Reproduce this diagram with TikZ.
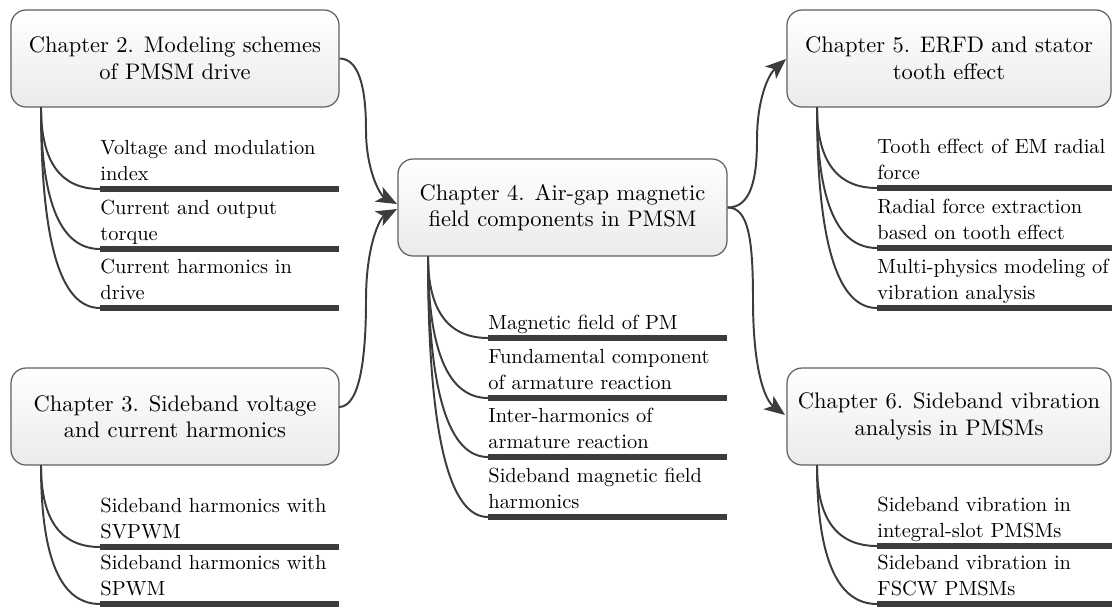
\documentclass[tikz,border=0pt]{standalone}
\usetikzlibrary{arrows.meta}
\definecolor{lnk}{HTML}{3C3C3C}
\definecolor{bord}{HTML}{606060}
\tikzset{
  chap/.style={draw=bord, line width=0.6pt, rounded corners=7.3pt, top color=white, middle color=black!1, bottom color=black!8,
    minimum height=47pt, align=center, inner sep=2pt, font=\fontsize{10.9}{12.9}\selectfont},
  item/.style={anchor=base west, inner sep=0pt, align=left, font=\fontsize{9.9}{12.4}\selectfont},
  bar/.style={draw=lnk, line width=2.7pt},
  sub/.style={draw=lnk, line width=0.95pt},
  mainarr/.style={draw=lnk, line width=0.95pt, -{Stealth[length=10pt,width=8pt,inset=2.6pt]}},
}
\begin{document}
\begin{tikzpicture}[x=0.4845pt,y=-0.4845pt]
\useasboundingbox (0,0) rectangle (1112,606);

% chapter boxes
\node[chap, minimum width=158.9pt] (c2) at (175,58.5) {Chapter 2. Modeling schemes\\of PMSM drive};
\node[chap, minimum width=158.9pt] (c3) at (175,416.5) {Chapter 3. Sideband voltage\\and current harmonics};
\node[chap, minimum width=159.4pt] (c4) at (562.5,207.5) {Chapter 4. Air-gap magnetic\\field components in PMSM};
\node[chap, minimum width=157.0pt] (c5) at (949,58.5) {Chapter 5. ERFD and stator\\tooth effect};
\node[chap, minimum width=157.0pt] (c6) at (949,416.5) {Chapter 6. Sideband vibration\\analysis in PMSMs};

% main arrows
\coordinate (t24) at (397,204);
\coordinate (t34) at (397,209);
\coordinate (c3r) at (339,407);
\coordinate (t45) at (786,59);
\coordinate (t46) at (785,415);
\coordinate (m24) at (366,130);
\coordinate (m34) at (366,300);
\coordinate (m45) at (757,140);
\coordinate (m46) at (753,300);
\draw[mainarr] (c2.east) .. controls +(23,0) and +(0,-30) .. (m24) .. controls +(0,40) and +(-17,-9) .. (t24);
\draw[mainarr] (c3r) .. controls +(23,0) and +(0,47) .. (m34) .. controls +(0,-55) and +(-17,9) .. (t34);
\draw[mainarr] (c4.east) .. controls +(23,0) and +(0,40) .. (m45) .. controls +(0,-40) and +(-18,16) .. (t45);
\draw[mainarr] (c4.east) .. controls +(21,0) and +(0,-60) .. (m46) .. controls +(0,70) and +(-20,-15) .. (t46);

% stems
\coordinate (s2) at (41,107);
\coordinate (s3) at (41,465);
\coordinate (s4) at (428,256);
\coordinate (s5) at (817,107);
\coordinate (s6) at (817,465);

% Chapter 2 items
\coordinate (b21) at (100,189); \coordinate (e21) at (339,189);
\coordinate (b22) at (100,249); \coordinate (e22) at (339,249);
\coordinate (b23) at (100,308); \coordinate (e23) at (339,308);
\draw[bar] (b21) -- (e21);
\draw[bar] (b22) -- (e22);
\draw[bar] (b23) -- (e23);
\node[item] (i21) at (100,180) {Voltage and modulation\\index};
\node[item] (i22) at (100,240) {Current and output\\torque};
\node[item] (i23) at (100,299) {Current harmonics in\\drive};
\draw[sub] (s2) .. controls +(0,57) and +(-38,0) .. (b21);
\draw[sub] (s2) .. controls +(0,99) and +(-38,0) .. (b22);
\draw[sub] (s2) .. controls +(0,141) and +(-38,0) .. (b23);

% Chapter 3 items
\coordinate (b31) at (100,547); \coordinate (e31) at (339,547);
\coordinate (b32) at (100,604); \coordinate (e32) at (339,604);
\draw[bar] (b31) -- (e31);
\draw[bar] (b32) -- (e32);
\node[item] (i31) at (100,538) {Sideband harmonics with\\SVPWM};
\node[item] (i32) at (100,595) {Sideband harmonics with\\SPWM};
\draw[sub] (s3) .. controls +(0,57) and +(-38,0) .. (b31);
\draw[sub] (s3) .. controls +(0,97) and +(-38,0) .. (b32);

% Chapter 4 items
\coordinate (b41) at (488,338); \coordinate (e41) at (727,338);
\coordinate (b42) at (488,398); \coordinate (e42) at (727,398);
\coordinate (b43) at (488,457); \coordinate (e43) at (727,457);
\coordinate (b44) at (488,517); \coordinate (e44) at (727,517);
\draw[bar] (b41) -- (e41);
\draw[bar] (b42) -- (e42);
\draw[bar] (b43) -- (e43);
\draw[bar] (b44) -- (e44);
\node[item] (i41) at (488,329) {Magnetic field of PM};
\node[item] (i42) at (488,389) {Fundamental component\\of armature reaction};
\node[item] (i43) at (488,448) {Inter-harmonics of\\armature reaction};
\node[item] (i44) at (488,508) {Sideband magnetic field\\harmonics};
\draw[sub] (s4) .. controls +(0,57) and +(-38,0) .. (b41);
\draw[sub] (s4) .. controls +(0,99) and +(-38,0) .. (b42);
\draw[sub] (s4) .. controls +(0,141) and +(-38,0) .. (b43);
\draw[sub] (s4) .. controls +(0,183) and +(-38,0) .. (b44);

% Chapter 5 items
\coordinate (b51) at (877,188); \coordinate (e51) at (1112,188);
\coordinate (b52) at (877,248); \coordinate (e52) at (1112,248);
\coordinate (b53) at (877,308); \coordinate (e53) at (1112,308);
\draw[bar] (b51) -- (e51);
\draw[bar] (b52) -- (e52);
\draw[bar] (b53) -- (e53);
\node[item] (i51) at (877,179) {Tooth effect of EM radial\\force};
\node[item] (i52) at (877,239) {Radial force extraction\\based on tooth effect};
\node[item] (i53) at (877,299) {Multi-physics modeling of\\vibration analysis};
\draw[sub] (s5) .. controls +(0,57) and +(-38,0) .. (b51);
\draw[sub] (s5) .. controls +(0,99) and +(-38,0) .. (b52);
\draw[sub] (s5) .. controls +(0,141) and +(-38,0) .. (b53);

% Chapter 6 items
\coordinate (b61) at (877,546); \coordinate (e61) at (1112,546);
\coordinate (b62) at (877,604); \coordinate (e62) at (1112,604);
\draw[bar] (b61) -- (e61);
\draw[bar] (b62) -- (e62);
\node[item] (i61) at (877,537) {Sideband vibration in\\integral-slot PMSMs};
\node[item] (i62) at (877,595) {Sideband vibration in\\FSCW PMSMs};
\draw[sub] (s6) .. controls +(0,57) and +(-38,0) .. (b61);
\draw[sub] (s6) .. controls +(0,97) and +(-38,0) .. (b62);
\end{tikzpicture}
\end{document}
